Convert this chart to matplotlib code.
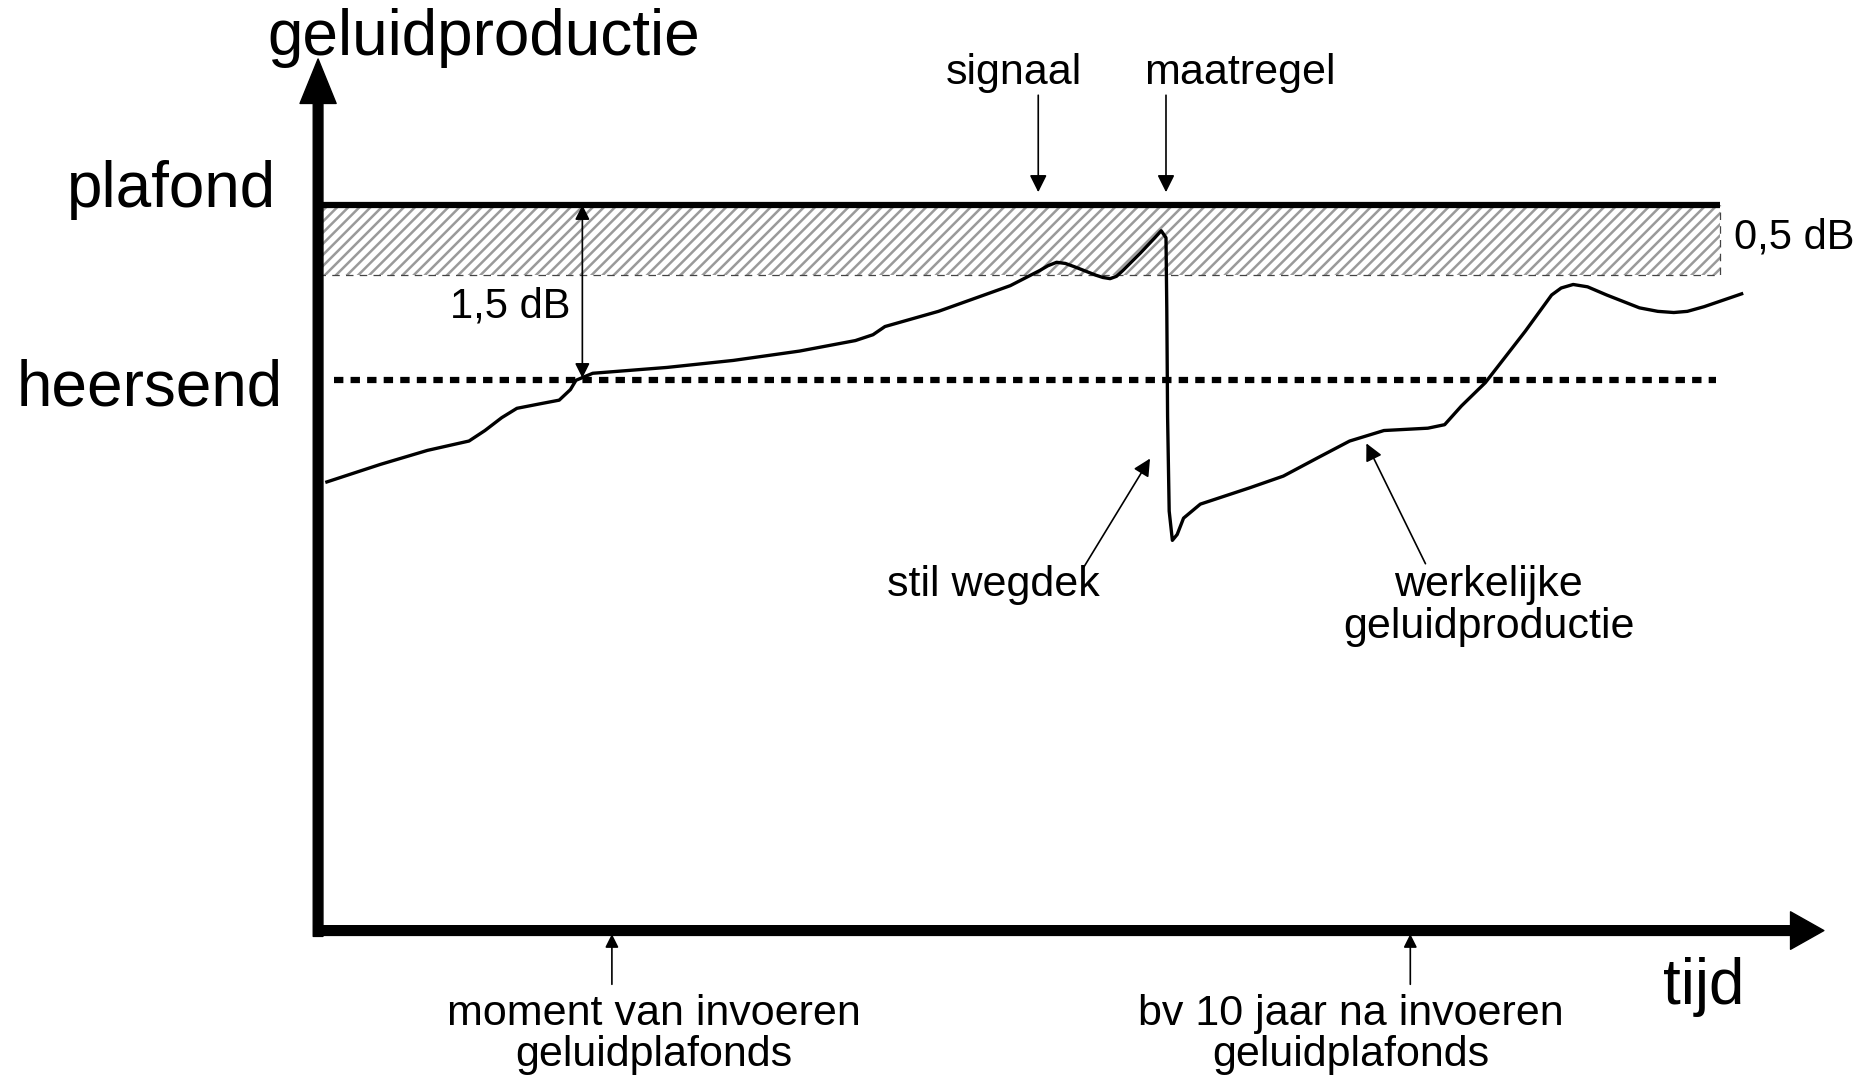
import matplotlib
matplotlib.use("Agg")
import matplotlib.pyplot as plt

plt.rcParams['font.family'] = ['Liberation Sans', 'DejaVu Sans']
plt.rcParams['hatch.linewidth'] = 1.8
plt.rcParams['hatch.color'] = '#9a9a9a'

# tijd in jaren (0 = moment van invoeren), geluid in dB t.o.v. heersend niveau
tijd = [-3.57, -2.90, -2.31, -1.79, -1.59, -1.38, -1.19, -0.89, -0.66, -0.52,
        -0.45, -0.24, 0.69, 1.52, 2.35, 3.05, 3.27, 3.42, 4.09, 4.99,
        5.36, 5.46, 5.57, 5.68, 5.80, 6.06, 6.15, 6.24, 6.32, 6.40,
        6.62, 6.80, 6.88, 6.94, 6.95, 6.96, 6.98, 7.02, 7.08, 7.16,
        7.37, 7.99, 8.41, 8.85, 9.24, 9.67, 10.22, 10.43, 10.64, 10.94,
        11.44, 11.77, 11.89, 12.04, 12.22, 12.46, 12.87, 13.10, 13.30, 13.47,
        13.68, 14.15]
geluid = [-0.87, -0.72, -0.60, -0.52, -0.43, -0.32, -0.24, -0.20, -0.17, -0.08,
          0.00, 0.06, 0.11, 0.17, 0.25, 0.34, 0.39, 0.46, 0.59, 0.81,
          0.94, 0.98, 1.01, 1.00, 0.97, 0.90, 0.88, 0.87, 0.89, 0.94,
          1.09, 1.22, 1.28, 1.22, 0.61, -0.31, -1.12, -1.37, -1.32, -1.18,
          -1.06, -0.92, -0.82, -0.66, -0.52, -0.43, -0.41, -0.38, -0.22, -0.02,
          0.42, 0.73, 0.79, 0.82, 0.80, 0.73, 0.62, 0.59, 0.58, 0.59,
          0.63, 0.74]

plafond = 1.5
heersend = 0.0
marge = 0.9          # onderkant van de 0,5 dB strook
t_invoeren = 0
t_later = 10
t_signaal = 5.34
t_maatregel = 6.94

# assen
x0, x_end = -3.68, 15.18
y0, y_top = -4.71, 2.75
t_lijn_eind = 13.88

fig = plt.figure(figsize=(18.63, 10.78), dpi=100)
ax = fig.add_axes([0, 0, 1, 1])
ax.set_xlim(-7.664, 15.670)
ax.set_ylim(-5.972, 3.255)
ax.axis('off')

# hatched strook onder het plafond
ax.fill_between([x0, t_lijn_eind], marge, plafond, facecolor='white',
                edgecolor='#9a9a9a', hatch='///', linewidth=0, zorder=1)
ax.plot([x0, t_lijn_eind, t_lijn_eind], [marge, marge, plafond], color='#444444',
        lw=0.9, dashes=(6, 5), zorder=2)

# plafond en heersend
ax.plot([x0, t_lijn_eind], [plafond, plafond], color='black', lw=4.5,
        solid_capstyle='butt', zorder=3)
ax.plot([x0 + 0.2, t_lijn_eind - 0.05], [heersend, heersend], color='black', lw=4.5,
        dashes=(1.5, 1.15), dash_capstyle='butt', zorder=3)

# werkelijke geluidproductie
ax.plot(tijd, geluid, color='black', lw=2.4, solid_joinstyle='round', zorder=4)

# assen met pijlen
ax.annotate('', xy=(x0, y_top), xytext=(x0, y0 - 0.05),
            arrowprops=dict(width=7, headwidth=26, headlength=32, shrink=0,
                            facecolor='black', edgecolor='black'), zorder=5)
ax.annotate('', xy=(x_end, y0), xytext=(x0 - 0.05, y0),
            arrowprops=dict(width=7, headwidth=27, headlength=24, shrink=0,
                            facecolor='black', edgecolor='black'), zorder=5)

big = 46
small = 31
ax.text(-1.61, 2.93, 'geluidproductie', fontsize=big, ha='center', va='center')
ax.text(-4.21, 1.63, 'plafond', fontsize=big, ha='right', va='center')
ax.text(-4.12, -0.07, 'heersend', fontsize=big, ha='right', va='center')
ax.text(13.68, -5.19, 'tijd', fontsize=big, ha='center', va='center')

# 1,5 dB
ax.annotate('', xy=(-0.37, plafond), xytext=(-0.37, heersend + 0.02),
            arrowprops=dict(arrowstyle='<|-|>', color='black', lw=1.2,
                            mutation_scale=22, shrinkA=0, shrinkB=0))
ax.text(-0.52, 0.63, '1,5 dB', fontsize=30, ha='right', va='center')
ax.text(14.06, 1.22, '0,5 dB', fontsize=30, ha='left', va='center')

# signaal / maatregel
for t in [t_signaal, t_maatregel]:
    ax.annotate('', xy=(t, 1.61), xytext=(t, 2.44),
                arrowprops=dict(arrowstyle='-|>', color='black', lw=1.2,
                                mutation_scale=26, shrinkA=0, shrinkB=0))
ax.text(5.03, 2.63, 'signaal', fontsize=small, ha='center', va='center')
ax.text(7.86, 2.63, 'maatregel', fontsize=small, ha='center', va='center')

# stil wegdek / werkelijke geluidproductie
ax.annotate('', xy=(6.74, -0.67), xytext=(5.91, -1.60),
            arrowprops=dict(arrowstyle='-|>', color='black', lw=1.2,
                            mutation_scale=26, shrinkA=0, shrinkB=0))
ax.text(4.78, -1.75, 'stil wegdek', fontsize=small, ha='center', va='center')
ax.annotate('', xy=(9.45, -0.54), xytext=(10.19, -1.57),
            arrowprops=dict(arrowstyle='-|>', color='black', lw=1.2,
                            mutation_scale=26, shrinkA=0, shrinkB=0))
ax.text(10.98, -1.93, 'werkelijke\ngeluidproductie', fontsize=small,
        ha='center', va='center', linespacing=1.05)

# momenten op de tijdas
for t in [t_invoeren, t_later]:
    ax.annotate('', xy=(t, y0 - 0.03), xytext=(t, -5.17),
                arrowprops=dict(arrowstyle='-|>', color='black', lw=1.2,
                                mutation_scale=20, shrinkA=0, shrinkB=0))
ax.text(0.52, -5.60, 'moment van invoeren\ngeluidplafonds', fontsize=small,
        ha='center', va='center', linespacing=1.05)
ax.text(9.26, -5.60, 'bv 10 jaar na invoeren\ngeluidplafonds', fontsize=small,
        ha='center', va='center', linespacing=1.05)

fig.savefig('out.png', dpi=100)
